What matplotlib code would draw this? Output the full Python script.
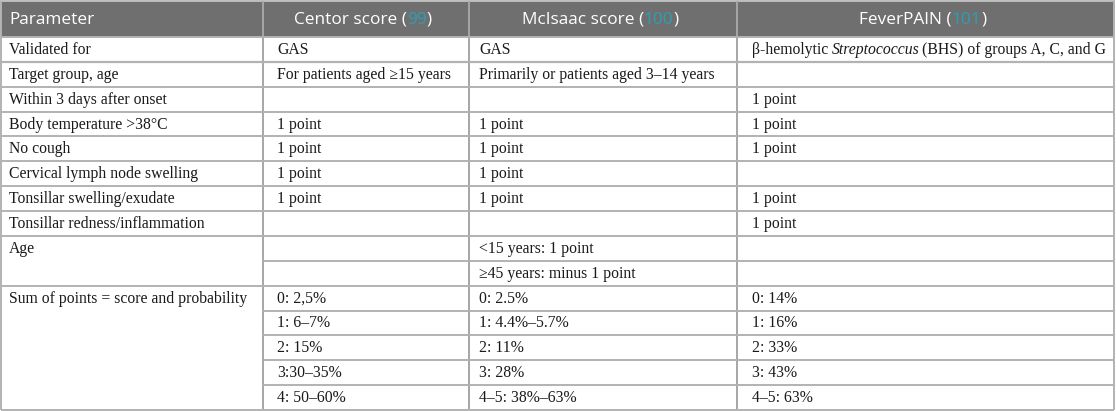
import matplotlib
matplotlib.use("Agg")
import matplotlib.pyplot as plt
from matplotlib.patches import Rectangle

# table content
headers = ["Parameter", "Centor score", "McIsaac score", "FeverPAIN"]
refs = ["", "99", "100", "101"]

params = ["Validated for", "Target group, age", "Within 3 days after onset",
          "Body temperature >38°C", "No cough", "Cervical lymph node swelling",
          "Tonsillar swelling/exudate", "Tonsillar redness/inflammation",
          "Age", "", "Sum of points = score and probability", "", "", "", ""]
centor = ["GAS", "For patients aged ≥15 years", "", "1 point", "1 point", "1 point",
          "1 point", "", "", "", "0: 2,5%", "1: 6–7%", "2: 15%", "3:30–35%", "4: 50–60%"]
mcisaac = ["GAS", "Primarily or patients aged 3–14 years", "", "1 point", "1 point",
           "1 point", "1 point", "", "<15 years: 1 point", "≥45 years: minus 1 point",
           "0: 2.5%", "1: 4.4%–5.7%", "2: 11%", "3: 28%", "4–5: 38%–63%"]
feverpain = ["", "", "1 point", "1 point", "1 point", "", "1 point", "1 point", "", "",
             "0: 14%", "1: 16%", "2: 33%", "3: 43%", "4–5: 63%"]
feverpain_first = [("β-hemolytic ", "normal"), ("Streptococcus", "italic"),
                   (" (BHS) of groups A, C, and G", "normal")]
# first-column cells that span several sub rows (start index, n rows)
merged = {8: 2, 10: 5}

# layout
W, H = 1116, 411
col_x = [1, 263, 469, 737, 1114]
pad = [8, 14, 10, 15]
head_top, head_bot = 1, 37
row_h = (410 - head_bot) / len(params)

head_col = "#6f6f6f"
ref_col = "#2aa0b5"
grid_col = "#b2b2b2"
serif = ["Liberation Serif", "DejaVu Serif"]
sans = ["Open Sans", "DejaVu Sans"]
fs_body = 11.3
fs_head = 12.4

fig = plt.figure(figsize=(W / 100, H / 100), dpi=100)
ax = fig.add_axes([0, 0, 1, 1])
ax.set_xlim(0, W)
ax.set_ylim(H, 0)
ax.axis("off")
renderer = fig.canvas.get_renderer()


def draw_parts(x, y, parts, ha="left", va="center", **kw):
    # draw a run of text pieces with different styles, side by side
    objs = []
    for s, props in parts:
        t = ax.text(0, y, s, va=va, ha="left", **kw, **props)
        objs.append(t)
    widths = []
    for t in objs:
        w = t.get_window_extent(renderer).width
        if t.get_style() == "italic":
            w -= 2  # slanted glyphs overhang their box
        widths.append(w)
    x0 = x - sum(widths) / 2 if ha == "center" else x
    for t, w in zip(objs, widths):
        t.set_x(x0)
        x0 += w


# header
ax.add_patch(Rectangle((col_x[0], head_top), col_x[-1] - col_x[0], head_bot - head_top,
                       facecolor=head_col, edgecolor="none"))
ax.plot([col_x[0], col_x[-1]], [head_top, head_top], color="#bdbdbd", lw=1.4)
hy = (head_top + head_bot) / 2 + 0.5
for i, h in enumerate(headers):
    if i == 0:
        ax.text(col_x[0] + pad[0], hy, h, color="white", fontsize=fs_head,
                family=sans, va="center")
    else:
        cx = (col_x[i] + col_x[i + 1]) / 2 - 3
        draw_parts(cx, hy, [(h + " (", {"color": "white"}), (refs[i], {"color": ref_col}),
                            (")", {"color": "white"})],
                   ha="center", fontsize=fs_head, family=sans)

# grid lines
bottom = head_bot + row_h * len(params)
for x in col_x:
    ax.plot([x, x], [head_top, bottom], color="#a6a6a6" if x not in (col_x[0], col_x[-1]) else grid_col,
            lw=1.4, solid_capstyle="butt")
covered = set()
for s, n in merged.items():
    covered.update(range(s + 1, s + n))
for r in range(len(params) + 1):
    y = head_bot + r * row_h
    x_start = col_x[1] if r in covered else col_x[0]
    ax.plot([x_start, col_x[-1]], [y, y], color=grid_col, lw=1.6 if r == 1 else 1.4,
            solid_capstyle="butt")

# body text (baseline placed so the capitals sit centred in the row)
for r in range(len(params)):
    cy = head_bot + (r + 0.5) * row_h
    base = cy + 4.5
    cells = [params[r], centor[r], mcisaac[r], feverpain[r]]
    for c, s in enumerate(cells):
        if s:
            ax.text(col_x[c] + pad[c], base, s, fontsize=fs_body, family=serif,
                    color="#1a1a1a", va="baseline")
    if r == 0:
        draw_parts(col_x[3] + pad[3], base,
                   [(s, {"style": st}) for s, st in feverpain_first], va="baseline",
                   fontsize=fs_body, family=serif, color="#1a1a1a")

fig.savefig("out.png", dpi=100)
